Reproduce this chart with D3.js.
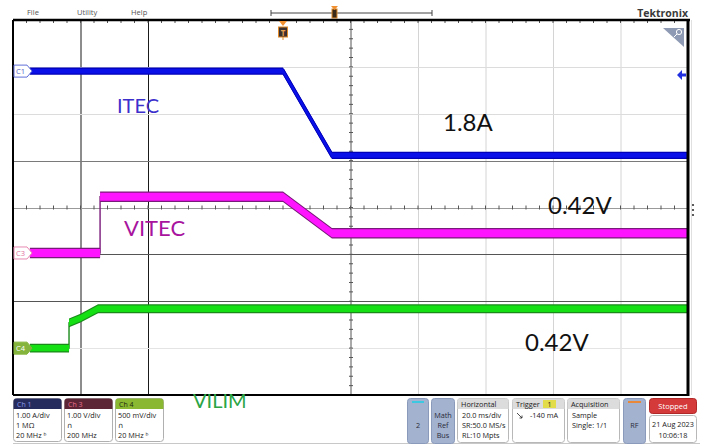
<!DOCTYPE html>
<html><head><meta charset="utf-8">
<script src="https://cdn.jsdelivr.net/npm/d3@7"></script>
<style>
body{margin:0;background:#fff}
svg{display:block}
.ui{font-family:"Open Sans","DejaVu Sans",sans-serif}
.note{font-family:Lato,"Open Sans",sans-serif}
</style>
</head><body>
<svg id="scope" width="705" height="445"></svg>
<script>
// Sweep: 20 ms/div over 10 divisions, trigger placed at the 4th division (t = 0)
const timeGrid = [-80, -60, -40, -20, 0, 20, 40, 60, 80, 100, 120];
const divGrid = [-4, -3, -2, -1, 0, 1, 2, 3, 4];

// Ch1 – ITEC (A)
const itecTime = [-75, 0, 14.5, 120];
const itecAmps = [1.8, 1.8, 0, 0];
// Ch3 – VITEC (V)
const vitecTime = [-75, -54.2, -54.2, 0, 14.5, 120];
const vitecVolts = [0, 0, 1.2, 1.2, 0.42, 0.42];
// Ch4 – VILIM (V)
const vilimTime = [-75, -63.4, -63.4, -60, -54.8, 120];
const vilimVolts = [0, 0, 0.27, 0.32, 0.42, 0.42];

// Vertical settings per channel
const chNames = ["Ch 1", "Ch 3", "Ch 4"];
const chPerDiv = [1.0, 1.0, 0.5];
const chOffsetDiv = [1.11, -0.97, -3.0];
const chSettings = [
  ["1.00 A/div", "1 MΩ", "20 MHz ᵇ"],
  ["1.00 V/div", "∩", "200 MHz"],
  ["500 mV/div", "∩", "20 MHz ᵇ"]
];

// Labels written on the screen
const noteTexts = ["ITEC", "1.8A", "VITEC", "0.42V", "0.42V", "VILIM"];

const svg = d3.select("#scope");
const L = 13, R = 688, T = 20, B = 395;
const x = d3.scaleLinear().domain([-80, 120]).range([L, R]);
const yDiv = d3.scaleLinear().domain([-4, 4]).range([B, T]);
const chY = (ch, v) => yDiv(chOffsetDiv[ch] + v / chPerDiv[ch]);

// ---------- top menu bar ----------
const menu = svg.append("g").attr("class", "ui").attr("font-size", 7.5).attr("fill", "#555");
[["File", 27], ["Utility", 77], ["Help", 131]].forEach(([t, px]) =>
  menu.append("text").attr("x", px).attr("y", 15).text(t));
svg.append("line").attr("x1", 271).attr("x2", 432).attr("y1", 13).attr("y2", 13).attr("stroke", "#444");
[271, 432].forEach(px => svg.append("line").attr("x1", px).attr("x2", px).attr("y1", 10).attr("y2", 16).attr("stroke", "#444"));
svg.append("rect").attr("x", 332).attr("y", 9).attr("width", 5).attr("height", 9).attr("fill", "#3a2a1a").attr("stroke", "#e08a2a");
svg.append("path").attr("d", "M331,6 L338,6 L334.5,10 Z").attr("fill", "#f09030");
svg.append("text").attr("class", "ui").attr("x", 688).attr("y", 17).attr("text-anchor", "end")
  .attr("font-size", 10.5).attr("font-weight", "bold").attr("fill", "#3a3a3a").text("Tektronix");

// ---------- graticule ----------
const grid = svg.append("g");
const vStyle = {"-60": "#1a1a1a", "-40": "#1a1a1a", "-20": null, "0": null, "20": "#555",
  "40": "#d4d4d4", "60": "#d4d4d4", "80": "#d4d4d4", "100": "#d4d4d4"};
timeGrid.slice(1, -1).forEach(t => {
  const c = vStyle[t];
  if (!c) return;
  grid.append("line").attr("x1", x(t) + 0.5).attr("x2", x(t) + 0.5).attr("y1", T).attr("y2", B)
    .attr("stroke", c).attr("stroke-width", 1);
});
const hStyle = {"3": "#dcdcdc", "2": "#dcdcdc", "1": "#7a7a7a", "0": "#9a9a9a", "-1": "#555", "-2": "#555", "-3": "#e4e4e4"};
divGrid.slice(1, -1).forEach(d => {
  grid.append("line").attr("x1", L).attr("x2", R).attr("y1", Math.round(yDiv(d)) + 0.5).attr("y2", Math.round(yDiv(d)) + 0.5)
    .attr("stroke", hStyle[d]).attr("stroke-width", 1);
});
// minor ticks on the centre lines and along the top edge
const minorT = d3.range(-80, 120.01, 4);
const minorD = d3.range(-4, 4.01, 0.2);
minorT.forEach(t => {
  grid.append("line").attr("x1", x(t)).attr("x2", x(t)).attr("y1", yDiv(0) - 2).attr("y2", yDiv(0) + 2).attr("stroke", "#555");
  grid.append("line").attr("x1", x(t)).attr("x2", x(t)).attr("y1", T).attr("y2", T + 3).attr("stroke", "#555");
});
minorD.forEach(d => {
  grid.append("line").attr("x1", x(20) - 1.5).attr("x2", x(20) + 2.5).attr("y1", yDiv(d)).attr("y2", yDiv(d)).attr("stroke", "#555");
});

// ---------- traces ----------
// Each acquisition is drawn as a vertical noise envelope over a centre line
const traceLine = (times, vals, ch) => d3.line()
  .x((d, i) => x(times[i]))
  .y((d, i) => chY(ch, vals[i]))(vals);
const traceBand = (times, vals, ch, h) => d3.area()
  .x((d, i) => x(times[i]))
  .y0((d, i) => chY(ch, vals[i]) + h)
  .y1((d, i) => chY(ch, vals[i]) - h)(vals);

const traces = svg.append("g");
const drawTrace = (times, vals, ch, h, edge, core, lw) => {
  traces.append("path").attr("d", traceBand(times, vals, ch, h + 1.2)).attr("fill", edge);
  traces.append("path").attr("d", traceLine(times, vals, ch)).attr("fill", "none")
    .attr("stroke", edge).attr("stroke-width", lw);
  traces.append("path").attr("d", traceBand(times, vals, ch, h)).attr("fill", core);
};
drawTrace(vilimTime, vilimVolts, 2, 3.2, "#1a8a1a", "#14e014", 1.4);
drawTrace(vitecTime, vitecVolts, 1, 4.0, "#7a1a7a", "#ff14ff", 1.4);
drawTrace(itecTime, itecAmps, 0, 2.4, "#0000b8", "#0a10e8", 4);

// ---------- frame ----------
svg.append("line").attr("x1", L).attr("x2", R + 2).attr("y1", T).attr("y2", T).attr("stroke", "#000").attr("stroke-width", 2.5);
svg.append("line").attr("x1", L).attr("x2", L).attr("y1", T).attr("y2", B).attr("stroke", "#000").attr("stroke-width", 2);
svg.append("line").attr("x1", R).attr("x2", R).attr("y1", T).attr("y2", B + 1).attr("stroke", "#000").attr("stroke-width", 3);
svg.append("line").attr("x1", L).attr("x2", R).attr("y1", B).attr("y2", B).attr("stroke", "#000").attr("stroke-width", 2);
svg.append("line").attr("x1", 691.5).attr("x2", 691.5).attr("y1", T).attr("y2", B).attr("stroke", "#e0e0e0");
[205, 210, 215].forEach(py => svg.append("circle").attr("cx", 693).attr("cy", py).attr("r", 1.1).attr("fill", "#333"));

// zoom corner and Ch1 trigger level arrow
svg.append("path").attr("d", "M663,28 L684,28 L684,47 Z").attr("fill", "#8e9ab4");
svg.append("circle").attr("cx", 679).attr("cy", 32).attr("r", 2.6).attr("fill", "none").attr("stroke", "#fff").attr("stroke-width", 1);
svg.append("line").attr("x1", 677).attr("x2", 674).attr("y1", 34).attr("y2", 37).attr("stroke", "#fff");
svg.append("path").attr("d", "M677,75 L682,70 L682,73.5 L686,73.5 L686,76.5 L682,76.5 L682,80 Z").attr("fill", "#2030e0");

// trigger position marker
const tx = x(0);
svg.append("path").attr("d", `M${tx - 4},${T + 1} L${tx + 4},${T + 1} L${tx},${T + 6} Z`).attr("fill", "#f09030");
svg.append("rect").attr("x", tx - 4.5).attr("y", T + 7).attr("width", 9).attr("height", 10).attr("fill", "#3a3030").attr("stroke", "#e08a2a");
svg.append("text").attr("class", "ui").attr("x", tx).attr("y", T + 15.5).attr("text-anchor", "middle")
  .attr("font-size", 8).attr("font-weight", "bold").attr("fill", "#e8a050").text("T");
svg.append("line").attr("x1", tx).attr("x2", tx).attr("y1", T + 17).attr("y2", T + 20).attr("stroke", "#e08a2a");

// channel ground markers
const markers = [
  {label: "C1", y: chY(0, itecAmps[0]), fill: "#fff", stroke: "#6070d8", text: "#5060c8"},
  {label: "C3", y: chY(1, 0), fill: "#fff", stroke: "#e88ab0", text: "#e070a0"},
  {label: "C4", y: chY(2, 0), fill: "#84b43c", stroke: "#84b43c", text: "#fff"}
];
markers.forEach(m => {
  svg.append("path").attr("d", `M14,${m.y - 6} L27,${m.y - 6} L32,${m.y} L27,${m.y + 6} L14,${m.y + 6} Z`)
    .attr("fill", m.fill).attr("stroke", m.stroke).attr("stroke-width", 1);
  svg.append("text").attr("class", "ui").attr("x", 16).attr("y", m.y + 3).attr("font-size", 7.5).attr("fill", m.text).text(m.label);
});

// ---------- annotations ----------
const notePos = [[117, 113, 20, "#3c2fcc"], [443, 131, 24, "#111"], [124, 236, 22, "#a8149e"],
  [548, 214, 24, "#111"], [525, 351, 24, "#111"], [193, 408, 20, "#2aa444"]];
noteTexts.forEach((t, i) => {
  const [px, py, fs, col] = notePos[i];
  svg.append("text").attr("class", "note").attr("x", px).attr("y", py).attr("font-size", fs).attr("fill", col).text(t);
});

// ---------- bottom status bar ----------
const bar = svg.append("g").attr("class", "ui");
bar.append("line").attr("x1", 13).attr("x2", 700).attr("y1", 443.5).attr("y2", 443.5).attr("stroke", "#c8c8c8");
const chHead = [["#262b5e", "#8a98e8"], ["#5c2636", "#e8708e"], ["#8ab832", "#1e2a10"]];
chNames.forEach((n, i) => {
  const bx = 13 + i * 51, bw = 48;
  bar.append("rect").attr("x", bx + 0.5).attr("y", 398.5).attr("width", bw).attr("height", 43).attr("rx", 3)
    .attr("fill", "#fff").attr("stroke", "#b0b0b0");
  bar.append("path").attr("d", `M${bx + 0.5},409 L${bx + 0.5},401.5 Q${bx + 0.5},398.5 ${bx + 3.5},398.5 L${bx + bw - 2.5},398.5 Q${bx + bw + 0.5},398.5 ${bx + bw + 0.5},401.5 L${bx + bw + 0.5},409 Z`)
    .attr("fill", chHead[i][0]);
  bar.append("text").attr("x", bx + 4).attr("y", 406.5).attr("font-size", 7).attr("fill", chHead[i][1]).text(n);
  chSettings[i].forEach((s, k) => bar.append("text").attr("x", bx + 3).attr("y", 417.5 + k * 10)
    .attr("font-size", 7.3).attr("fill", "#222").text(s));
});

// side buttons
const button = (bx, bw, lines, accent) => {
  bar.append("rect").attr("x", bx + 0.5).attr("y", 398.5).attr("width", bw).attr("height", 45).attr("rx", 3)
    .attr("fill", "#a2b2cf").attr("stroke", "#8a9aba");
  if (accent) bar.append("rect").attr("x", bx + 5).attr("y", 401).attr("width", bw - 9).attr("height", 2).attr("fill", accent);
  const y0 = 428 - (lines.length - 1) * 5;
  lines.forEach((s, k) => bar.append("text").attr("x", bx + bw / 2 + 0.5).attr("y", y0 + k * 10)
    .attr("text-anchor", "middle").attr("font-size", 7.3).attr("fill", "#2a2a3a").text(s));
};
button(407, 21, ["2"], "#3cc8e0");
button(431, 23, ["Math", "Ref", "Bus"], null);
button(623, 22, ["RF"], "#e8883a");

// info panels
const panel = (bx, bw, head, lines) => {
  bar.append("rect").attr("x", bx + 0.5).attr("y", 398.5).attr("width", bw).attr("height", 44).attr("rx", 3)
    .attr("fill", "#fff").attr("stroke", "#b8b8b8");
  bar.append("path").attr("d", `M${bx + 0.5},409 L${bx + 0.5},401.5 Q${bx + 0.5},398.5 ${bx + 3.5},398.5 L${bx + bw - 2.5},398.5 Q${bx + bw + 0.5},398.5 ${bx + bw + 0.5},401.5 L${bx + bw + 0.5},409 Z`)
    .attr("fill", "#dcdcdc");
  bar.append("text").attr("x", bx + 4).attr("y", 406.5).attr("font-size", 7.3).attr("fill", "#222").text(head);
  lines.forEach((s, k) => bar.append("text").attr("x", bx + 5).attr("y", 417.5 + k * 10)
    .attr("font-size", 7.3).attr("fill", "#222").text(s));
};
panel(457, 51, "Horizontal", ["20.0 ms/div", "SR:50.0 MS/s", "RL:10 Mpts"]);
panel(512, 52, "Trigger", []);
bar.append("rect").attr("x", 543).attr("y", 400).attr("width", 13).attr("height", 8).attr("fill", "#e2dc4a");
bar.append("text").attr("x", 549.5).attr("y", 406.5).attr("text-anchor", "middle").attr("font-size", 7).attr("fill", "#222").text("1");
bar.append("path").attr("d", "M517,413 L522,418 M519.5,418 L522,418 L522,415.5").attr("fill", "none").attr("stroke", "#222").attr("stroke-width", 0.8);
bar.append("text").attr("x", 530).attr("y", 417.5).attr("font-size", 7.3).attr("fill", "#222").text("-140 mA");
panel(567, 52, "Acquisition", ["Sample", "Single: 1/1"]);

// run state and timestamp
bar.append("rect").attr("x", 649.5).attr("y", 398.5).attr("width", 47).attr("height", 15).attr("rx", 3).attr("fill", "#d43a3a").attr("stroke", "#b02828");
bar.append("text").attr("x", 673).attr("y", 409).attr("text-anchor", "middle").attr("font-size", 7.5).attr("fill", "#fff").text("Stopped");
bar.append("rect").attr("x", 649.5).attr("y", 415.5).attr("width", 47).attr("height", 27).attr("rx", 3).attr("fill", "#fff").attr("stroke", "#b8b8b8");
bar.append("text").attr("x", 673).attr("y", 426.5).attr("text-anchor", "middle").attr("font-size", 7.3).attr("fill", "#222").text("21 Aug 2023");
bar.append("text").attr("x", 673).attr("y", 437.5).attr("text-anchor", "middle").attr("font-size", 7.3).attr("fill", "#222").text("10:06:18");
</script>
</body></html>
